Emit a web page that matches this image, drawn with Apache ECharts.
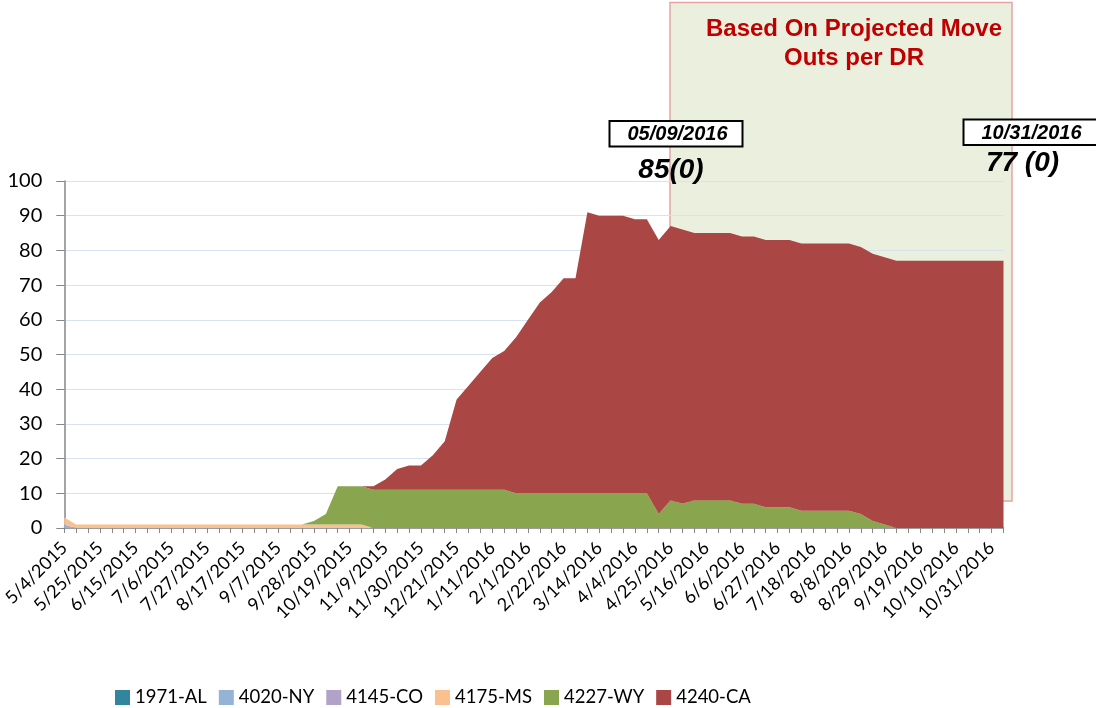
<!DOCTYPE html>
<html>
<head>
<meta charset="utf-8">
<script src="https://cdn.jsdelivr.net/npm/echarts@6/dist/echarts.min.js"></script>
<style>
  html, body { margin: 0; padding: 0; background: #fff; }
  #chart { width: 1096px; height: 708px; }
</style>
</head>
<body>
<div id="chart"></div>
<script>
// weekly dates, 5/4/2015 .. 11/7/2016
const weeks = [
  '5/4/2015', '5/11/2015', '5/18/2015', '5/25/2015', '6/1/2015', '6/8/2015', '6/15/2015', '6/22/2015',
  '6/29/2015', '7/6/2015', '7/13/2015', '7/20/2015', '7/27/2015', '8/3/2015', '8/10/2015', '8/17/2015',
  '8/24/2015', '8/31/2015', '9/7/2015', '9/14/2015', '9/21/2015', '9/28/2015', '10/5/2015', '10/12/2015',
  '10/19/2015', '10/26/2015', '11/2/2015', '11/9/2015', '11/16/2015', '11/23/2015', '11/30/2015', '12/7/2015',
  '12/14/2015', '12/21/2015', '12/28/2015', '1/4/2016', '1/11/2016', '1/18/2016', '1/25/2016', '2/1/2016',
  '2/8/2016', '2/15/2016', '2/22/2016', '2/29/2016', '3/7/2016', '3/14/2016', '3/21/2016', '3/28/2016',
  '4/4/2016', '4/11/2016', '4/18/2016', '4/25/2016', '5/2/2016', '5/9/2016', '5/16/2016', '5/23/2016',
  '5/30/2016', '6/6/2016', '6/13/2016', '6/20/2016', '6/27/2016', '7/4/2016', '7/11/2016', '7/18/2016',
  '7/25/2016', '8/1/2016', '8/8/2016', '8/15/2016', '8/22/2016', '8/29/2016', '9/5/2016', '9/12/2016',
  '9/19/2016', '9/26/2016', '10/3/2016', '10/10/2016', '10/17/2016', '10/24/2016', '10/31/2016', '11/7/2016'
]

const al = [
  0, 0, 0, 0, 0, 0, 0, 0, 0, 0, 0, 0, 0, 0, 0, 0, 0, 0, 0, 0,
  0, 0, 0, 0, 0, 0, 0, 0, 0, 0, 0, 0, 0, 0, 0, 0, 0, 0, 0, 0,
  0, 0, 0, 0, 0, 0, 0, 0, 0, 0, 0, 0, 0, 0, 0, 0, 0, 0, 0, 0,
  0, 0, 0, 0, 0, 0, 0, 0, 0, 0, 0, 0, 0, 0, 0, 0, 0, 0, 0, 0
]
const ny = [
  1, 0, 0, 0, 0, 0, 0, 0, 0, 0, 0, 0, 0, 0, 0, 0, 0, 0, 0, 0,
  0, 0, 0, 0, 0, 0, 0, 0, 0, 0, 0, 0, 0, 0, 0, 0, 0, 0, 0, 0,
  0, 0, 0, 0, 0, 0, 0, 0, 0, 0, 0, 0, 0, 0, 0, 0, 0, 0, 0, 0,
  0, 0, 0, 0, 0, 0, 0, 0, 0, 0, 0, 0, 0, 0, 0, 0, 0, 0, 0, 0
]
const co = [
  0, 0, 0, 0, 0, 0, 0, 0, 0, 0, 0, 0, 0, 0, 0, 0, 0, 0, 0, 0,
  0, 0, 0, 0, 0, 0, 0, 0, 0, 0, 0, 0, 0, 0, 0, 0, 0, 0, 0, 0,
  0, 0, 0, 0, 0, 0, 0, 0, 0, 0, 0, 0, 0, 0, 0, 0, 0, 0, 0, 0,
  0, 0, 0, 0, 0, 0, 0, 0, 0, 0, 0, 0, 0, 0, 0, 0, 0, 0, 0, 0
]
const ms = [
  2, 1, 1, 1, 1, 1, 1, 1, 1, 1, 1, 1, 1, 1, 1, 1, 1, 1, 1, 1,
  1, 1, 1, 1, 1, 1, 0, 0, 0, 0, 0, 0, 0, 0, 0, 0, 0, 0, 0, 0,
  0, 0, 0, 0, 0, 0, 0, 0, 0, 0, 0, 0, 0, 0, 0, 0, 0, 0, 0, 0,
  0, 0, 0, 0, 0, 0, 0, 0, 0, 0, 0, 0, 0, 0, 0, 0, 0, 0, 0, 0
]
const wy = [
  0, 0, 0, 0, 0, 0, 0, 0, 0, 0, 0, 0, 0, 0, 0, 0, 0, 0, 0, 0,
  0, 1, 3, 11, 11, 11, 11, 11, 11, 11, 11, 11, 11, 11, 11, 11, 11, 11, 10, 10,
  10, 10, 10, 10, 10, 10, 10, 10, 10, 10, 4, 8, 7, 8, 8, 8, 8, 7, 7, 6,
  6, 6, 5, 5, 5, 5, 5, 4, 2, 1, 0, 0, 0, 0, 0, 0, 0, 0, 0, 0
]
const ca = [
  0, 0, 0, 0, 0, 0, 0, 0, 0, 0, 0, 0, 0, 0, 0, 0, 0, 0, 0, 0,
  0, 0, 0, 0, 0, 0, 1, 3, 6, 7, 7, 10, 14, 26, 30, 34, 38, 40, 45, 50,
  55, 58, 62, 62, 81, 80, 80, 80, 79, 79, 79, 79, 79, 77, 77, 77, 77, 77, 77, 77,
  77, 77, 77, 77, 77, 77, 77, 77, 77, 77, 77, 77, 77, 77, 77, 77, 77, 77, 77, 77
]

const seriesNames = ['1971-AL', '4020-NY', '4145-CO', '4175-MS', '4227-WY', '4240-CA']
const seriesData = [al, ny, co, ms, wy, ca]
const colors = ['#31859C', '#95B3D7', '#B3A2C7', '#FAC090', '#89A54E', '#AA4643']

const chart = echarts.init(document.getElementById('chart'))

const option = {
  animation: false,
  color: colors,
  grid: { left: 62, right: 92.5, top: 181, bottom: 180 },
  legend: {
    data: seriesNames,
    left: 110,
    top: 683,
    icon: 'rect',
    itemWidth: 15,
    itemHeight: 15,
    itemGap: 12,
    textStyle: { color: '#000', fontSize: 18.5, fontFamily: 'Lato' }
  },
  xAxis: {
    type: 'category',
    data: weeks,
    boundaryGap: false,
    axisLine: { lineStyle: { color: '#868686', width: 1.5 } },
    axisTick: { interval: 0, length: 5, lineStyle: { color: '#868686' } },
    axisLabel: {
      interval: 2,
      rotate: 45,
      margin: 17,
      color: '#000',
      fontSize: 18,
      fontFamily: 'Lato'
    },
    splitLine: { show: false }
  },
  yAxis: {
    type: 'value',
    min: 0,
    max: 100,
    interval: 10,
    axisLine: { show: true, lineStyle: { color: '#868686', width: 1.5 } },
    axisTick: { show: true, length: 8, lineStyle: { color: '#868686' } },
    axisLabel: { margin: 22, color: '#000', fontSize: 20, fontFamily: 'Lato' },
    splitLine: { lineStyle: { color: '#D9E2F1', width: 1 } }
  },
  series: seriesData.map((d, i) => ({
    name: seriesNames[i],
    type: 'line',
    stack: 'total',
    data: d,
    symbol: 'none',
    lineStyle: { width: 0 },
    areaStyle: { opacity: 1, color: colors[i] }
  })),
  graphic: {
    elements: [
      {
        type: 'rect',
        z: -1,
        shape: { x: 670, y: 2.5, width: 342, height: 498.5 },
        style: { fill: '#EAF0DD', stroke: '#E8A4A4', lineWidth: 1.5 }
      },
      {
        type: 'text',
        z: 10,
        style: {
          text: 'Based On Projected Move\nOuts per DR',
          x: 854, y: 44,
          align: 'center', verticalAlign: 'middle',
          lineHeight: 29.5,
          font: 'bold 24px "Liberation Sans", Arial, sans-serif',
          fill: '#C00000'
        }
      },
      {
        type: 'rect',
        z: 10,
        shape: { x: 609.5, y: 121, width: 133, height: 25.5 },
        style: { fill: '#fff', stroke: '#000', lineWidth: 2 }
      },
      {
        type: 'text',
        z: 11,
        style: {
          text: '05/09/2016', x: 677.5, y: 134,
          align: 'center', verticalAlign: 'middle',
          font: 'italic bold 20px "Liberation Sans", Arial, sans-serif',
          fill: '#000'
        }
      },
      {
        type: 'text',
        z: 11,
        style: {
          text: '85(0)', x: 671, y: 170,
          align: 'center', verticalAlign: 'middle',
          font: 'italic bold 28px "Liberation Sans", Arial, sans-serif',
          fill: '#000'
        }
      },
      {
        type: 'rect',
        z: 10,
        shape: { x: 963.5, y: 119.5, width: 140, height: 25.5 },
        style: { fill: '#fff', stroke: '#000', lineWidth: 2 }
      },
      {
        type: 'text',
        z: 11,
        style: {
          text: '10/31/2016', x: 1031.5, y: 133,
          align: 'center', verticalAlign: 'middle',
          font: 'italic bold 20px "Liberation Sans", Arial, sans-serif',
          fill: '#000'
        }
      },
      {
        type: 'text',
        z: 11,
        style: {
          text: '77 (0)', x: 1022.5, y: 163,
          align: 'center', verticalAlign: 'middle',
          font: 'italic bold 28px "Liberation Sans", Arial, sans-serif',
          fill: '#000'
        }
      }
    ]
  }
}

chart.setOption(option)
</script>
</body>
</html>
